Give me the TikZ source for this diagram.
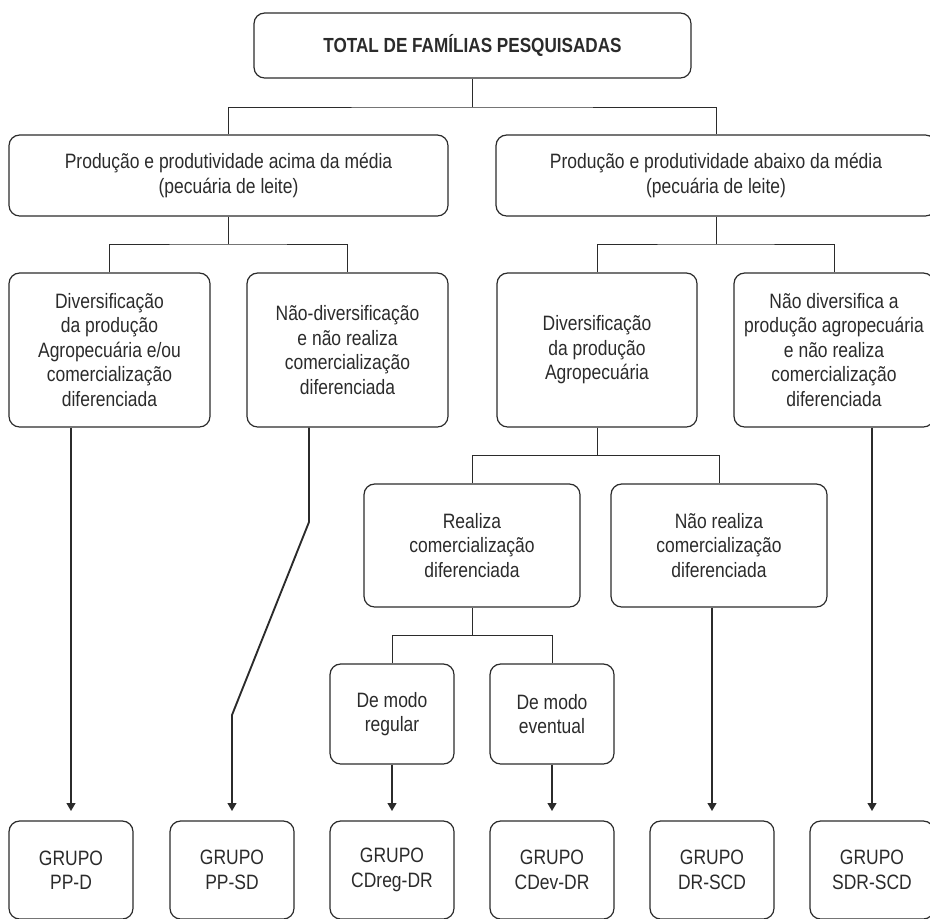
\documentclass[tikz,border=0pt]{standalone}
\usepackage{fontspec}
\setmainfont{Liberation Sans}[FakeStretch=0.84]
\usetikzlibrary{arrows.meta}
\definecolor{ink}{HTML}{2B2B2B}
\begin{document}
\begin{tikzpicture}[x=0.75pt,y=-0.75pt,
  box/.style={draw=ink, line width=0.9pt, rounded corners=8pt, align=center, inner sep=0pt,
    text=ink, font=\fontsize{15.6}{18.4}\selectfont},
  conn/.style={draw=ink, line width=0.7pt},
  arr/.style={draw=ink, line width=1.4pt, -{Triangle[length=6pt,width=6.5pt]}, shorten >=7pt}]
\useasboundingbox (0,0) rectangle (930,918);
\clip (0,0) rectangle (930,918);
% level 1
\node[box, minimum width=327.75pt, minimum height=48.75pt, font=\fontsize{15.3}{18.4}\selectfont\bfseries] (top) at (472.5,45.5) {TOTAL DE FAMÍLIAS PESQUISADAS};
% level 2
\node[box, minimum width=329.25pt, minimum height=60.75pt] (acima) at (228.5,175.5) {Produção e produtividade acima da média\\(pecuária de leite)};
\node[box, minimum width=330pt, minimum height=60.75pt] (abaixo) at (716,175.5) {Produção e produtividade abaixo da média\\(pecuária de leite)};
% level 3
\node[box, minimum width=150.75pt, minimum height=115.5pt] (divA) at (109.5,350) {Diversificação\\da produção\\Agropecuária e/ou\\comercialização\\diferenciada};
\node[box, minimum width=150.75pt, minimum height=115.5pt] (naodivA) at (347.5,350) {Não-diversificação\\e não realiza\\comercialização\\diferenciada};
\node[box, minimum width=150pt, minimum height=115.5pt] (divB) at (597,350) {Diversificação\\da produção\\Agropecuária};
\node[box, minimum width=150pt, minimum height=115.5pt] (naodivB) at (834,350) {Não diversifica a\\produção agropecuária\\e não realiza\\comercialização\\diferenciada};
% level 4
\node[box, minimum width=162pt, minimum height=92.25pt] (realiza) at (472,545.5) {Realiza\\comercialização\\diferenciada};
\node[box, minimum width=162pt, minimum height=92.25pt] (naorealiza) at (719,545.5) {Não realiza\\comercialização\\diferenciada};
% level 5
\node[box, minimum width=93pt, minimum height=75pt] (regular) at (392,714) {De modo\\regular};
\node[box, minimum width=93pt, minimum height=75pt] (eventual) at (552,714) {De modo\\eventual};
% groups
\node[box, minimum width=93pt, minimum height=73.5pt] (g1) at (71,870) {GRUPO\\PP-D};
\node[box, minimum width=93pt, minimum height=73.5pt] (g2) at (232,870) {GRUPO\\PP-SD};
\node[box, minimum width=93pt, minimum height=73.5pt] (g3) at (392,870) {GRUPO\\CDreg-DR};
\node[box, minimum width=93pt, minimum height=73.5pt] (g4) at (552,870) {GRUPO\\CDev-DR};
\node[box, minimum width=93pt, minimum height=73.5pt] (g5) at (712,870) {GRUPO\\DR-SCD};
\node[box, minimum width=93pt, minimum height=73.5pt] (g6) at (872,870) {GRUPO\\SDR-SCD};
% junctions
\coordinate (j1) at (472,107);
\coordinate (j2) at (228,244);
\coordinate (j3) at (716,244);
\coordinate (j4) at (597,455);
\coordinate (j5) at (472,635);
\coordinate (b1) at (309,522);
\coordinate (b2) at (232,715);
% tree connectors
\draw[conn] (top.south -| j1) -- (j1);
\draw[conn] (acima.north) |- (j1) -| (abaixo.north);
\draw[conn] (acima.south -| j2) -- (j2);
\draw[conn] (divA.north) |- (j2) -| (naodivA.north);
\draw[conn] (abaixo.south) -- (j3);
\draw[conn] (divB.north) |- (j3) -| (naodivB.north);
\draw[conn] (divB.south) -- (j4);
\draw[conn] (realiza.north) |- (j4) -| (naorealiza.north);
\draw[conn] (realiza.south) -- (j5);
\draw[conn] (regular.north) |- (j5) -| (eventual.north);
% arrows
\draw[arr] (g1.north |- divA.south) -- (g1.north);
\draw[arr] (b1 |- naodivA.south) -- (b1) -- (b2) -- (g2.north);
\draw[arr] (regular.south) -- (g3.north);
\draw[arr] (eventual.south) -- (g4.north);
\draw[arr] (g5.north |- naorealiza.south) -- (g5.north);
\draw[arr] (g6.north |- naodivB.south) -- (g6.north);
\end{tikzpicture}
\end{document}
